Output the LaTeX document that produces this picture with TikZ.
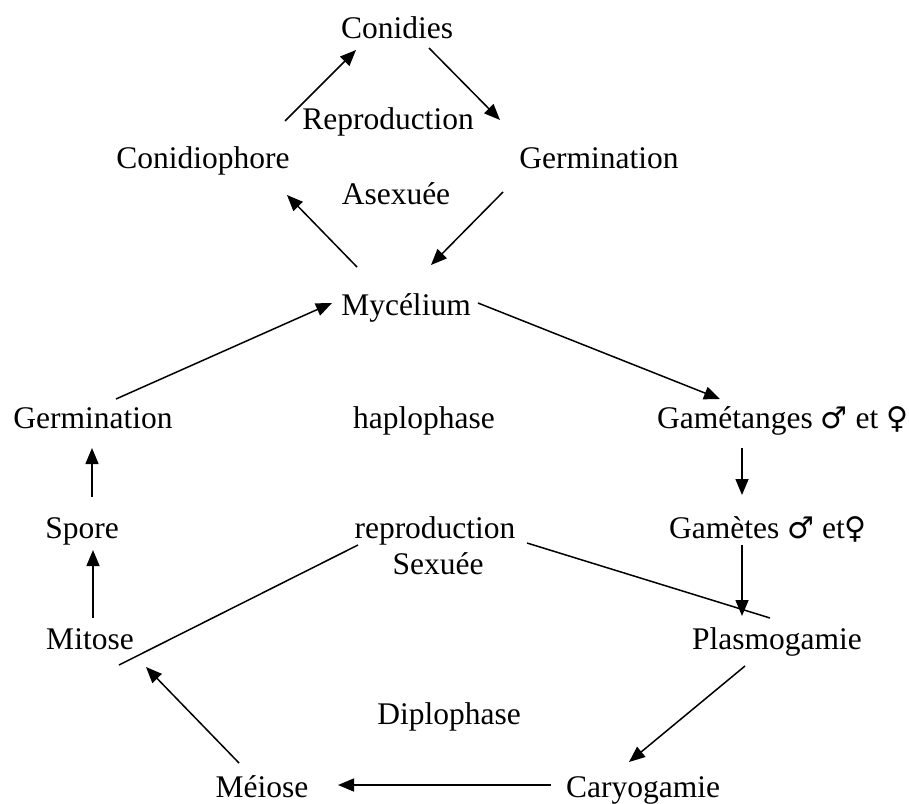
\documentclass[tikz,border=0pt]{standalone}
\usepackage{fontspec}
\setmainfont{Liberation Serif}
\newfontfamily\symfont{DejaVu Sans}
\usetikzlibrary{arrows.meta}
\newcommand{\male}{{\symfont\fontsize{30}{34}\selectfont ♂}}
\newcommand{\female}{{\symfont\fontsize{30}{34}\selectfont ♀}}
\begin{document}
\begin{tikzpicture}[x=1pt,y=-1pt,
  lbl/.style={inner sep=0pt,anchor=base,font=\fontsize{31.5}{36}\selectfont},
  lblw/.style={inner sep=0pt,anchor=base west,font=\fontsize{31.5}{36}\selectfont},
  arr/.style={line width=1.5pt,-{Triangle[length=16pt,width=13pt]}},
  ln/.style={line width=1.5pt}]
\useasboundingbox (0,0) rectangle (909,803);
% labels
\node[lbl] (conidies) at (397,38) {Conidies};
\node[lbl] (reprA) at (388,129) {Reproduction};
\node[lbl] (conidiophore) at (203,168) {Conidiophore};
\node[lbl] (germT) at (599,168) {Germination};
\node[lbl] (asex) at (396,204) {Asexuée};
\node[lbl] (myc) at (406,315) {Mycélium};
\node[lbl] (germL) at (93,428) {Germination};
\node[lbl] (haplo) at (424,428) {haplophase};
\node[lblw] (gametanges) at (657,428) {Gamétanges \male{} et \female};
\node[lbl] (spore) at (82,538) {Spore};
\node[lbl] (reprS) at (435,538) {reproduction};
\node[lblw] (gametes) at (669,538) {Gamètes \male{} et\female};
\node[lbl] (sexuee) at (438,574) {Sexuée};
\node[lbl] (mitose) at (90,649) {Mitose};
\node[lbl] (plasmo) at (777,649) {Plasmogamie};
\node[lbl] (diplo) at (449,724) {Diplophase};
\node[lbl] (meiose) at (262,797) {Méiose};
\node[lbl] (caryo) at (643,797) {Caryogamie};
% connector end points
\coordinate (c1a) at (285,121); \coordinate (c1b) at (356,50);
\coordinate (c2a) at (429,48);  \coordinate (c2b) at (500,120);
\coordinate (c3a) at (503,192); \coordinate (c3b) at (431,265);
\coordinate (c4a) at (357,267); \coordinate (c4b) at (287,195);
\coordinate (c5a) at (116,399); \coordinate (c5b) at (332,303);
\coordinate (c6a) at (478,303); \coordinate (c6b) at (720,399);
\coordinate (c7a) at (742,448); \coordinate (c7b) at (742,495);
\coordinate (c8a) at (92,497);  \coordinate (c8b) at (92,448);
\coordinate (c9a) at (93,618);  \coordinate (c9b) at (93,550);
\coordinate (c10a) at (742,545); \coordinate (c10b) at (742,616);
\coordinate (c11a) at (119,665); \coordinate (c11b) at (358,545);
\coordinate (c12a) at (527,543); \coordinate (c12b) at (770,618);
\coordinate (c13a) at (745,666); \coordinate (c13b) at (629,762);
\coordinate (c14a) at (551,785); \coordinate (c14b) at (338,785);
\coordinate (c15a) at (239,763); \coordinate (c15b) at (146,667);
% connectors
\draw[arr] (c1a) -- (c1b);
\draw[arr] (c2a) -- (c2b);
\draw[arr] (c3a) -- (c3b);
\draw[arr] (c4a) -- (c4b);
\draw[arr] (c5a) -- (c5b);
\draw[arr] (c6a) -- (c6b);
\draw[arr] (c7a) -- (c7b);
\draw[arr] (c8a) -- (c8b);
\draw[arr] (c9a) -- (c9b);
\draw[arr] (c10a) -- (c10b);
\draw[ln] (c11a) -- (c11b);
\draw[ln] (c12a) -- (c12b);
\draw[arr] (c13a) -- (c13b);
\draw[arr] (c14a) -- (c14b);
\draw[arr] (c15a) -- (c15b);
\end{tikzpicture}
\end{document}
